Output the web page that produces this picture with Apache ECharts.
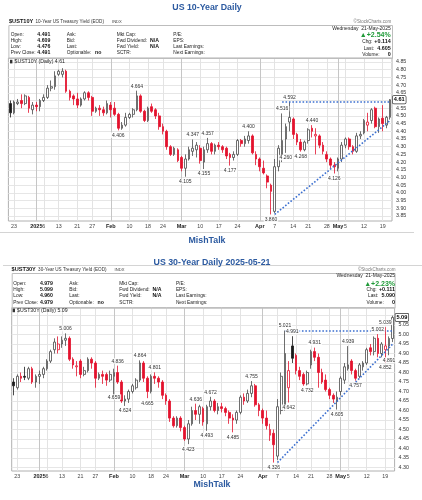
<!DOCTYPE html>
<html><head><meta charset="utf-8"><title>UST 10Y / 30Y</title>
<script src="https://cdn.jsdelivr.net/npm/echarts@6/dist/echarts.min.js"></script>
<style>html,body{margin:0;padding:0;background:#fff;overflow:hidden}#c{width:422px;height:500px}</style>
</head><body><div id="c"></div>
<script>
// ---------------- DATA ----------------
const dates = ['12-20','12-23','12-24','12-26','12-27','12-30','12-31',
'01-02','01-03','01-06','01-07','01-08','01-10','01-13','01-14','01-15','01-16','01-17','01-21','01-22','01-23','01-24','01-27','01-28','01-29','01-30','01-31',
'02-03','02-04','02-05','02-06','02-07','02-10','02-11','02-12','02-13','02-14','02-18','02-19','02-20','02-21','02-24','02-25','02-26','02-27','02-28',
'03-03','03-04','03-05','03-06','03-07','03-10','03-11','03-12','03-13','03-14','03-17','03-18','03-19','03-20','03-21','03-24','03-25','03-26','03-27','03-28','03-31',
'04-01','04-02','04-03','04-04','04-07','04-08','04-09','04-10','04-11','04-14','04-15','04-16','04-17','04-21','04-22','04-23','04-24','04-25','04-28','04-29','04-30',
'05-01','05-02','05-05','05-06','05-07','05-08','05-09','05-12','05-13','05-14','05-15','05-16','05-19','05-20','05-21'];

const tickDates = ['12-23','01-02','01-06','01-13','01-21','01-27','02-03','02-10','02-18','02-24','03-03','03-10','03-17','03-24','04-01','04-07','04-14','04-21','04-28','05-01','05-05','05-12','05-19'];
const tickText  = ['23','2025','6','13','21','27','Feb','10','18','24','Mar','10','17','24','Apr','7','14','21','28','May','5','12','19'];
const boldTicks = ['2025','Feb','Mar','Apr','May'];

// US 10-Year
const open10 = [4.58,4.52,4.58,4.60,4.58,4.62,4.54,4.57,4.56,4.60,
4.62,4.68,4.69,4.77,4.77,4.79,4.66,4.63,4.61,4.57,
4.61,4.65,4.62,4.53,4.55,4.54,4.52,4.57,4.55,4.51,
4.42,4.44,4.49,4.51,4.54,4.63,4.53,4.47,4.56,4.54,
4.50,4.43,4.40,4.30,4.25,4.28,4.23,4.16,4.22,4.27,
4.28,4.29,4.20,4.28,4.32,4.27,4.31,4.30,4.29,4.25,
4.23,4.25,4.34,4.32,4.34,4.37,4.25,4.22,4.16,4.11,
4.05,3.88,4.17,4.25,4.35,4.46,4.48,4.38,4.33,4.28,
4.34,4.42,4.37,4.37,4.31,4.25,4.22,4.18,4.16,4.22,
4.31,4.35,4.30,4.27,4.37,4.39,4.44,4.47,4.55,4.43,
4.485,4.44,4.491];
const high10 = [4.60,4.60,4.61,4.64,4.64,4.63,4.59,4.59,4.61,4.64,
4.70,4.73,4.79,4.80,4.81,4.80,4.67,4.64,4.65,4.62,
4.66,4.66,4.63,4.56,4.57,4.56,4.60,4.59,4.59,4.52,
4.46,4.52,4.52,4.55,4.664,4.64,4.54,4.56,4.58,4.55,
4.52,4.45,4.41,4.31,4.30,4.29,4.24,4.25,4.30,4.347,
4.33,4.31,4.30,4.357,4.33,4.32,4.33,4.31,4.30,4.26,
4.27,4.35,4.35,4.37,4.40,4.38,4.27,4.23,4.21,4.12,
4.06,4.22,4.31,4.516,4.45,4.592,4.49,4.39,4.35,4.34,
4.42,4.44,4.42,4.38,4.33,4.27,4.23,4.20,4.23,4.33,
4.36,4.36,4.31,4.39,4.40,4.48,4.52,4.55,4.56,4.49,
4.57,4.50,4.609];
const low10 = [4.49,4.51,4.57,4.55,4.57,4.52,4.51,4.53,4.53,4.59,
4.61,4.66,4.67,4.76,4.75,4.65,4.60,4.57,4.55,4.56,
4.60,4.60,4.50,4.52,4.50,4.50,4.51,4.49,4.50,4.406,
4.41,4.43,4.48,4.49,4.53,4.52,4.46,4.46,4.52,4.48,
4.41,4.38,4.28,4.24,4.24,4.20,4.14,4.105,4.21,4.24,
4.23,4.19,4.155,4.26,4.25,4.25,4.28,4.26,4.22,4.177,
4.21,4.24,4.30,4.30,4.32,4.25,4.18,4.14,4.12,4.03,
3.860,3.87,4.14,4.20,4.26,4.40,4.35,4.31,4.268,4.27,
4.32,4.36,4.25,4.29,4.25,4.20,4.16,4.126,4.14,4.20,
4.29,4.28,4.25,4.26,4.35,4.38,4.40,4.45,4.42,4.39,
4.40,4.42,4.476];
const close10 = [4.52,4.59,4.59,4.58,4.63,4.55,4.57,4.56,4.60,4.62,
4.68,4.69,4.76,4.79,4.79,4.66,4.62,4.61,4.57,4.61,
4.65,4.62,4.53,4.55,4.54,4.52,4.58,4.54,4.51,4.42,
4.44,4.49,4.51,4.54,4.63,4.53,4.47,4.55,4.53,4.50,
4.43,4.40,4.30,4.25,4.29,4.21,4.16,4.22,4.28,4.29,
4.31,4.21,4.28,4.32,4.27,4.31,4.30,4.28,4.24,4.23,
4.25,4.34,4.32,4.35,4.37,4.26,4.22,4.17,4.13,4.07,
4.01,4.17,4.29,4.34,4.43,4.49,4.38,4.33,4.28,4.33,
4.41,4.40,4.38,4.31,4.27,4.22,4.18,4.17,4.22,4.31,
4.35,4.30,4.27,4.37,4.38,4.47,4.46,4.54,4.43,4.48,
4.45,4.491,4.605];

// US 30-Year
const open30 = [4.75,4.72,4.78,4.78,4.77,4.82,4.75,4.78,4.79,4.82,
4.86,4.92,4.92,4.95,4.97,4.98,4.87,4.83,4.86,4.79,
4.81,4.87,4.85,4.77,4.79,4.79,4.76,4.78,4.80,4.75,
4.65,4.66,4.70,4.72,4.76,4.85,4.77,4.70,4.78,4.77,
4.75,4.68,4.65,4.56,4.52,4.56,4.51,4.45,4.53,4.60,
4.58,4.61,4.53,4.62,4.65,4.60,4.62,4.61,4.59,4.56,
4.55,4.59,4.67,4.65,4.69,4.73,4.63,4.60,4.56,4.47,
4.48,4.36,4.60,4.62,4.72,4.94,4.89,4.81,4.79,4.74,
4.84,4.91,4.88,4.80,4.76,4.71,4.68,4.65,4.70,4.76,
4.82,4.86,4.81,4.78,4.83,4.85,4.93,4.91,4.98,4.90,
4.92,4.94,4.979];
const high30 = [4.77,4.79,4.80,4.83,4.83,4.83,4.79,4.81,4.83,4.87,
4.92,4.98,4.99,4.99,5.006,4.99,4.88,4.86,4.87,4.83,
4.88,4.88,4.86,4.80,4.81,4.80,4.81,4.82,4.836,4.76,
4.68,4.71,4.74,4.77,4.864,4.86,4.78,4.79,4.801,4.78,
4.76,4.69,4.66,4.57,4.57,4.57,4.52,4.55,4.62,4.636,
4.63,4.62,4.63,4.672,4.66,4.64,4.64,4.62,4.60,4.58,
4.60,4.68,4.69,4.71,4.755,4.74,4.64,4.61,4.60,4.53,
4.50,4.66,4.80,5.021,4.86,4.991,4.90,4.83,4.80,4.81,
4.92,4.931,4.90,4.82,4.79,4.72,4.69,4.70,4.78,4.85,
4.939,4.87,4.82,4.85,4.86,4.93,4.95,4.99,5.002,4.96,
5.039,4.99,5.099];
const low30 = [4.68,4.71,4.75,4.76,4.76,4.74,4.72,4.74,4.77,4.81,
4.85,4.90,4.90,4.93,4.94,4.86,4.82,4.78,4.77,4.78,
4.80,4.82,4.72,4.76,4.74,4.73,4.75,4.659,4.74,4.64,
4.624,4.64,4.69,4.71,4.75,4.75,4.665,4.69,4.74,4.72,
4.66,4.63,4.54,4.51,4.51,4.49,4.44,4.423,4.52,4.55,
4.53,4.52,4.493,4.60,4.59,4.58,4.59,4.57,4.53,4.485,
4.53,4.58,4.63,4.64,4.67,4.62,4.57,4.53,4.50,4.44,
4.326,4.34,4.58,4.60,4.642,4.85,4.79,4.76,4.73,4.732,
4.82,4.86,4.72,4.74,4.70,4.66,4.64,4.605,4.68,4.74,
4.81,4.79,4.757,4.77,4.81,4.84,4.89,4.89,4.88,4.88,
4.852,4.891,4.960];
const close30 = [4.73,4.78,4.77,4.775,4.82,4.75,4.78,4.79,4.82,4.86,
4.91,4.96,4.95,4.97,4.98,4.87,4.84,4.835,4.79,4.81,
4.87,4.85,4.77,4.79,4.78,4.76,4.79,4.80,4.75,4.65,
4.66,4.70,4.73,4.76,4.85,4.77,4.70,4.78,4.77,4.75,
4.68,4.65,4.56,4.52,4.56,4.51,4.45,4.53,4.60,4.58,
4.62,4.54,4.62,4.65,4.60,4.62,4.61,4.59,4.56,4.55,
4.59,4.67,4.65,4.69,4.73,4.63,4.60,4.56,4.52,4.50,
4.42,4.62,4.78,4.90,4.81,4.875,4.81,4.78,4.74,4.80,
4.91,4.88,4.80,4.75,4.71,4.68,4.66,4.67,4.77,4.83,
4.84,4.81,4.77,4.84,4.85,4.92,4.91,4.98,4.90,4.95,
4.94,4.979,5.090];

// annotated highs (1) / lows (0): [index, value, isHigh, labelShift]
const ann10 = [[34,4.664,1],[29,4.406,0],[47,4.105,0],[49,4.347,1],[52,4.155,0],[53,4.357,1],[59,4.177,0],[64,4.400,1],[70,3.860,0],[73,4.516,1],[74,4.260,0],[75,4.592,1],[78,4.268,0],[81,4.440,1],[87,4.126,0]];
const ann30 = [[14,5.006,1],[28,4.836,1],[27,4.659,0,-7],[30,4.624,0],[34,4.864,1],[36,4.665,0],[38,4.801,1],[47,4.423,0],[49,4.636,1],[52,4.493,0],[53,4.672,1],[59,4.485,0],[64,4.755,1],[70,4.326,0],[73,5.021,1],[74,4.642,0],[75,4.991,1],[79,4.732,0],[81,4.931,1],[87,4.605,0],[90,4.939,1],[92,4.757,0],[98,5.002,1],[100,5.039,1],[100,4.852,0],[101,4.891,0]];

// trend lines (from index/value to index/value)
const flat10 = [[73,4.592],[102,4.592]];
const rise10 = [[71,3.860],[102,4.470]];
const flat30 = [[73,5.021],[102,5.021]];
const rise30 = [[71,4.326],[102,4.950]];

// header info
const hdrLabels = [['Open:','High:','Low:','Prev Close:'],['Ask:','Bid:','Last:','Optionable:'],['Mkt Cap:','Fwd Dividend:','Fwd Yield:','SCTR:'],['P/E:','EPS:','Last Earnings:','Next Earnings:']];
const hdr10 = ['4.491','4.609','4.476','4.491'];
const hdr30 = ['4.979','5.099','4.960','4.979'];
const right10 = ['+2.54%','+0.114','4.605','0'];
const right30 = ['+2.23%','+0.111','5.090','0'];

// ---------------- CHART ----------------
const FF = '"Liberation Sans", Arial, Helvetica, sans-serif';
const RED = '#e3122d';
const BLUE = '#2c5aa0';
const tickIdx = tickDates.map(d => dates.indexOf(d));

function candleItems(o,h,l,c){
  return o.map(function(op,i){
    var cl=c[i], prev=i>0?c[i-1]:cl, up=cl>=op, fill, stroke;
    if(up){ fill='#ffffff'; stroke = cl>=prev ? '#4a4a4a' : RED; }
    else { fill = cl<prev ? RED : '#1a1a1a'; stroke = fill; }
    return {value:[op,cl,l[i],h[i]], itemStyle:{color:fill,color0:fill,borderColor:stroke,borderColor0:stroke,borderColorDoji:stroke,borderWidth:0.8}};
  });
}
function vLines(){
  return tickIdx.map(function(idx,k){
    var strong = boldTicks.indexOf(tickText[k])>=0;
    return {xAxis:idx, lineStyle:{color:strong?'#c6c6c6':'#e3e3e3', width:1, type:'solid'}};
  });
}
function annItems(ann){
  return ann.map(function(a){
    var it={coord:[a[0],a[1]], value:a[1].toFixed(3), label:{position:a[2]?'top':'bottom'}};
    if(a[3]) it.label.offset=[0,a[3]];
    return it;
  });
}
function lastBox(c){
  var v=c[c.length-1];
  return {coord:[c.length-1,v], value:(v+1e-9).toFixed(2),
    label:{position:'right', distance:2.2, color:'#000', fontWeight:'bold', fontSize:5.6, backgroundColor:'#fff', borderColor:'#333', borderWidth:0.7, borderRadius:1, padding:[1,1,0.4,1]}};
}
function xAxisCfg(gi){
  return {gridIndex:gi, type:'category', data:dates, boundaryGap:true,
    axisLine:{show:false}, axisTick:{show:false}, splitLine:{show:false},
    axisLabel:{interval:function(i){return tickIdx.indexOf(i)>=0;},
      formatter:function(v,i){var k=tickIdx.indexOf(i); var t=k>=0?tickText[k]:''; return boldTicks.indexOf(t)>=0?'{b|'+t+'}':t;},
      fontSize:5.3, color:'#444', margin:2.6, fontFamily:FF,
      rich:{b:{fontWeight:'bold', fontSize:5.5, color:'#222', fontFamily:FF}}}};
}
function yLabelAxis(gi,mn,mx){
  return {gridIndex:gi, type:'value', min:mn, max:mx, interval:0.05, position:'right',
    axisLine:{show:false}, axisTick:{show:false},
    axisLabel:{showMinLabel:false, showMaxLabel:false, formatter:function(v){return v.toFixed(2);}, fontSize:5.3, color:'#333', margin:4, fontFamily:FF},
    splitLine:{show:true, showMinLine:false, showMaxLine:false, lineStyle:{color:'#e6e6e6', width:1}}};
}
function dummy(xi,yi){
  return {type:'line', xAxisIndex:xi, yAxisIndex:yi, data:dates.map(()=>'-'), showSymbol:false, silent:true, z:1, animation:false,
    markLine:{silent:true, z:1, symbol:['none','none'], label:{show:false}, data:vLines(), animation:false}};
}
function candleSeries(xi,yi,o,h,l,c,ann,flat,rise){
  return {type:'candlestick', xAxisIndex:xi, yAxisIndex:yi, z:3, barWidth:2.2, animation:false,
    data:candleItems(o,h,l,c),
    markLine:{silent:true, symbol:['none','none'], label:{show:false}, animation:false,
      lineStyle:{color:'#3b6fd0', width:1.6, type:[1.6,1.8]},
      data:[[{coord:flat[0]},{coord:flat[1]}],[{coord:rise[0]},{coord:rise[1]}]]},
    markPoint:{silent:true, symbol:'circle', symbolSize:1, itemStyle:{color:'rgba(0,0,0,0)'}, animation:false,
      label:{show:true, formatter:'{c}', fontSize:5, color:'#333', fontFamily:FF, backgroundColor:'rgba(255,255,255,0.85)', padding:[0.5,1,0,1], distance:1.5},
      data:annItems(ann).concat([lastBox(c)])}};
}

// ---- graphics (titles, header texts) ----
var G=[];
function T(x,y,s,size,opt){opt=opt||{}; G.push({type:'text', x:x, y:y, z:100, silent:true,
  style:{text:s, fill:opt.c||'#222', font:(opt.b?'bold ':'')+size+'px '+FF, align:opt.a||'left', verticalAlign:'middle'}});}
function R(x,y,w,h,stroke){G.push({type:'rect', z:90, silent:true, shape:{x:x,y:y,width:w,height:h}, style:{fill:'none', stroke:stroke, lineWidth:1}});}
function L(x1,y1,x2,y2,c){G.push({type:'line', z:90, silent:true, shape:{x1:x1,y1:y1,x2:x2,y2:y2}, style:{stroke:c, lineWidth:1}});}

function header(p){
  T(p.x0, p.y0, p.sym, 5.6, {b:1, c:'#111'});
  T(p.x0+26.5, p.y0+0.2, p.desc, 4.6, {c:'#333'});
  T(p.x0+103, p.y0+0.2, 'INDX', 4.1, {c:'#444'});
  T(p.xr+0.5, p.y0, '\u00a9StockCharts.com', 4.5, {a:'right', c:'#777'});
  R(p.bx+0.5, p.by+0.5, p.bw, p.bh, '#bdbdbd');
  var cols=[p.x0+1.7, p.x0+57.7, p.x0+107.7, p.x0+164.3];
  for(var r=0;r<4;r++){
    var yy=p.rows[r];
    for(var k=0;k<4;k++) T(cols[k], yy, hdrLabels[k][r], 4.8, {c:'#222'});
    T(p.x0+28.3, yy, p.vals[r], 5.2, {b:1, c:'#111'});
  }
  T(p.x0+86, p.rows[3], 'no', 5.2, {b:1, c:'#111'});
  T(p.x0+141, p.rows[1], 'N/A', 5.2, {b:1, c:'#111'});
  T(p.x0+141, p.rows[2], 'N/A', 5.2, {b:1, c:'#111'});
  T(p.xr, p.rdate, 'Wednesday  21-May-2025', 5, {a:'right', c:'#222'});
  T(p.xr, p.rows[0]+0.3, '\u25b2'+p.right[0], 7, {a:'right', b:1, c:'#1f9a38'});
  T(p.xr-28.5, p.rr[0], 'Chg:', 4.8, {c:'#222'});
  T(p.xr, p.rr[0], p.right[1], 5.4, {a:'right', b:1, c:'#111'});
  T(p.xr-27, p.rr[1], 'Last:', 4.8, {c:'#222'});
  T(p.xr, p.rr[1], p.right[2], 5.4, {a:'right', b:1, c:'#111'});
  T(p.xr-28.5, p.rr[2], 'Volume:', 4.8, {c:'#222'});
  T(p.xr, p.rr[2], p.right[3], 5.4, {a:'right', b:1, c:'#111'});
  // legend row inside the plot
  G.push({type:'rect', z:100, silent:true, shape:{x:p.x0+1, y:p.ly-2, width:2.4, height:3.6}, style:{fill:'#333'}});
  T(p.x0+5.5, p.ly, p.sym+' (Daily) '+p.lastTxt, 5.2, {c:'#222'});
}

L(0,232.5,414,232.5,'#d4d4d4');
L(3,265.5,422,265.5,'#d4d4d4');
T(207, 7.6, 'US 10-Year Daily', 8.8, {a:'center', b:1, c:BLUE});
T(207, 240.8, 'MishTalk', 8.8, {a:'center', b:1, c:BLUE});
T(212, 262.6, 'US 30-Year Daily 2025-05-21', 8.8, {a:'center', b:1, c:BLUE});
T(212, 484.2, 'MishTalk', 8.8, {a:'center', b:1, c:BLUE});

header({x0:9, y0:21.7, xr:390.7, sym:'$UST10Y', desc:'10-Year US Treasury Yield (EOD)', bx:8.4, by:25, bw:383.6, bh:33,
  rows:[34.7,40.7,46.7,52.7], vals:hdr10, rdate:28.4, rr:[42,48.3,55], right:right10, ly:61.8, lastTxt:(close10[102]+1e-9).toFixed(2)});
header({x0:11.6, y0:269.5, xr:395, sym:'$UST30Y', desc:'30-Year US Treasury Yield (EOD)', bx:11.7, by:273, bw:382.9, bh:34.7,
  rows:[283.3,289.4,295.7,302.2], vals:hdr30, rdate:275.8, rr:[289.4,295.7,302.2], right:right30, ly:310.6, lastTxt:(close30[102]+1e-9).toFixed(2)});

const chart = echarts.init(document.getElementById('c'));
chart.setOption({
  animation:false,
  backgroundColor:'#ffffff',
  textStyle:{fontFamily:FF},
  grid:[
    {left:8.4, top:58, width:383.6, height:163, show:true, borderColor:'#b0b0b0', borderWidth:1, backgroundColor:'rgba(0,0,0,0)', outerBoundsMode:'none', containLabel:false},
    {left:8.4, top:54.3, width:383.6, height:169.4, outerBoundsMode:'none', containLabel:false},
    {left:11.7, top:307.7, width:382.9, height:163.3, show:true, borderColor:'#b0b0b0', borderWidth:1, backgroundColor:'rgba(0,0,0,0)', outerBoundsMode:'none', containLabel:false},
    {left:11.7, top:306, width:382.9, height:171, outerBoundsMode:'none', containLabel:false}
  ],
  xAxis:[
    xAxisCfg(0),
    {gridIndex:1, type:'category', data:dates, show:false},
    xAxisCfg(2),
    {gridIndex:3, type:'category', data:dates, show:false}
  ],
  yAxis:[
    {gridIndex:0, type:'value', min:3.8175, max:4.876, show:false, splitLine:{show:false}},
    yLabelAxis(1, 3.80, 4.90),
    {gridIndex:2, type:'value', min:4.2816, max:5.1411, show:false, splitLine:{show:false}},
    yLabelAxis(3, 4.25, 5.15)
  ],
  series:[
    dummy(0,0),
    candleSeries(0,0,open10,high10,low10,close10,ann10,flat10,rise10),
    dummy(2,2),
    candleSeries(2,2,open30,high30,low30,close30,ann30,flat30,rise30)
  ],
  graphic:G
});
</script>
</body></html>
